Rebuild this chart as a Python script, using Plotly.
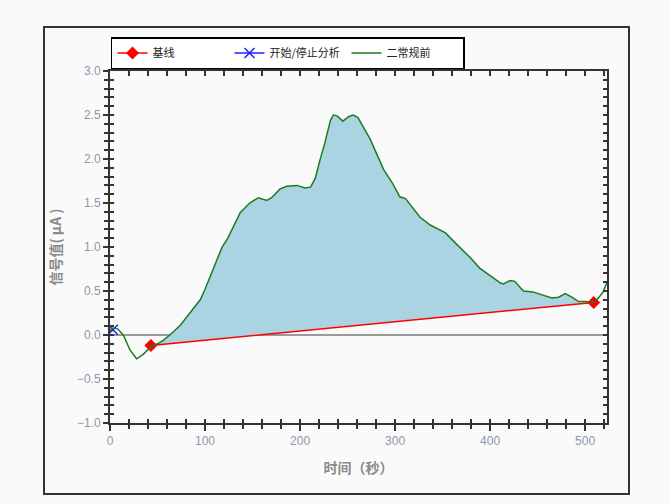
import plotly.graph_objects as go

# ---- data ----
curve_x = [0, 3, 8, 14, 21, 28, 35, 43, 50, 56, 63, 74, 84, 95, 100, 110, 118, 124, 137, 147,
           156, 165, 170, 179, 186, 197, 205, 211, 216, 221, 226, 232, 235, 239, 245, 251,
           256, 261, 267, 274, 281, 288, 297, 305, 311, 319, 326, 337, 353, 363, 379, 389,
           400, 411, 414, 421, 426, 435, 445, 456, 465, 472, 479, 486, 493, 500, 509, 514,
           519, 523]
curve_y = [0.05, 0.08, 0.07, 0.0, -0.17, -0.27, -0.22, -0.13, -0.1, -0.06, 0.0, 0.11, 0.25,
           0.4, 0.52, 0.78, 1.0, 1.1, 1.39, 1.5, 1.56, 1.53, 1.56, 1.66, 1.69, 1.7, 1.67,
           1.68, 1.78, 1.99, 2.18, 2.44, 2.5, 2.49, 2.43, 2.48, 2.5, 2.47, 2.36, 2.22, 2.05,
           1.88, 1.73, 1.57, 1.55, 1.44, 1.34, 1.25, 1.16, 1.05, 0.88, 0.76, 0.68, 0.59,
           0.58, 0.62, 0.61, 0.5, 0.49, 0.45, 0.42, 0.43, 0.47, 0.43, 0.38, 0.38, 0.37,
           0.42, 0.49, 0.6]

base_x = [43, 509]
base_y = [-0.12, 0.37]

start_x = [3]
start_y = [0.06]

names = ["基线", "开始/停止分析", "二常规前"]
x_title = "时间（秒）"
y_title = "信号值( μA )"
x_range = [0, 523]
y_range = [-1.0, 3.0]

# ---- fill polygon between curve and baseline ----
def base_at(x):
    return base_y[0] + (x - base_x[0]) * (base_y[1] - base_y[0]) / (base_x[1] - base_x[0])

fx = [x for x in curve_x if base_x[0] <= x <= base_x[1]]
fy = [y for x, y in zip(curve_x, curve_y) if base_x[0] <= x <= base_x[1]]
poly_x = fx + [base_x[1], base_x[0]]
poly_y = fy + [base_at(base_x[1]), base_at(base_x[0])]

fig = go.Figure()
fig.add_trace(go.Scatter(x=poly_x, y=poly_y, fill="toself", fillcolor="#aad4e2",
                         line=dict(width=0), mode="lines", showlegend=False, hoverinfo="skip"))
fig.add_trace(go.Scatter(x=base_x, y=base_y, mode="lines+markers", name=names[0],
                         line=dict(color="#ff0000", width=1.5),
                         marker=dict(symbol="diamond", size=10, color="#ff0000")))
fig.add_trace(go.Scatter(x=start_x, y=start_y, mode="lines+markers", name=names[1],
                         line=dict(color="#2020ff", width=1.5),
                         marker=dict(symbol="x-thin", size=10, color="#2020ff",
                                     line=dict(color="#2020ff", width=1.5))))
fig.add_trace(go.Scatter(x=curve_x, y=curve_y, mode="lines", name=names[2],
                         line=dict(color="#1e7b1e", width=1.5)))
# invisible traces so the overlay tick axes get drawn
for xa, ya in (("x2", "y2"), ("x3", "y3")):
    fig.add_trace(go.Scatter(x=base_x, y=base_y, xaxis=xa, yaxis=ya, mode="markers",
                             marker=dict(opacity=0), showlegend=False, hoverinfo="skip"))

tickfont = dict(family="Liberation Sans, Arial", size=12, color="#8a98ad")
titlefont = dict(family="Noto Sans CJK SC", size=14, color="#8a8a8a", weight="bold")
axcol = "#333333"

fig.update_layout(
    width=670, height=504,
    margin=dict(l=110, r=63, t=71, b=81),
    paper_bgcolor="#fafafa", plot_bgcolor="#fafafa",
    showlegend=True,
    legend=dict(orientation="h", x=0.002, y=(423 - 37) / 352, xanchor="left", yanchor="top",
                bgcolor="#ffffff", bordercolor="#000000", borderwidth=1.5,
                font=dict(family="Noto Sans CJK SC", size=11, color="#222222"),
                entrywidth=72, entrywidthmode="pixels", tracegroupgap=0),
    xaxis=dict(range=x_range, showgrid=False, zeroline=False, showline=True,
               linecolor=axcol, linewidth=2, ticks="outside", ticklen=6, tickwidth=1.5,
               tickcolor=axcol, dtick=100, tick0=0, tickfont=tickfont,
               minor=dict(dtick=20, ticks="outside", ticklen=4, tickcolor=axcol, tickwidth=1.5),
               title=dict(text=x_title, font=titlefont, standoff=16)),
    xaxis2=dict(range=x_range, overlaying="x", side="bottom", anchor="y2", showgrid=False,
                zeroline=False, showline=False, ticks="inside", ticklen=4, tickwidth=1.5,
                tickcolor=axcol, dtick=20, tick0=0, showticklabels=False),
    xaxis3=dict(range=x_range, overlaying="x", side="top", anchor="y3", showgrid=False,
                zeroline=False, showline=True, linecolor=axcol, linewidth=2,
                ticks="inside", ticklen=5, tickwidth=1.5, tickcolor=axcol, dtick=20, tick0=0,
                showticklabels=False),
    yaxis=dict(range=y_range, showgrid=False, zeroline=True, zerolinecolor="#9a9a9a",
               zerolinewidth=1.5, showline=True, linecolor=axcol, linewidth=2,
               ticks="outside", ticklen=5, tickwidth=1.5, tickcolor=axcol, dtick=0.5,
               tick0=0, tickformat=".1f", tickfont=tickfont, layer="above traces",
               minor=dict(dtick=0.1, ticks="outside", ticklen=4, tickcolor=axcol, tickwidth=1.5),
               title=dict(text=y_title, font=titlefont, standoff=12)),
    yaxis2=dict(range=y_range, overlaying="y", side="left", anchor="x2", showgrid=False,
                zeroline=False, showline=False, ticks="inside", ticklen=4, tickwidth=1.5,
                tickcolor=axcol, dtick=0.1, tick0=0, showticklabels=False),
    yaxis3=dict(range=y_range, overlaying="y", side="right", anchor="x3", showgrid=False,
                zeroline=False, showline=True, linecolor=axcol, linewidth=2,
                ticks="inside", ticklen=4, tickwidth=1.5, tickcolor=axcol, dtick=0.1, tick0=0,
                showticklabels=False),
)

# outer frame
fig.add_shape(type="rect", xref="paper", yref="paper",
              x0=(44 - 110) / 497, x1=(629 - 110) / 497,
              y0=(423 - 494) / 352, y1=(423 - 27) / 352,
              line=dict(color="#333333", width=2), fillcolor="rgba(0,0,0,0)", layer="below")

fig.write_html("out.html")
